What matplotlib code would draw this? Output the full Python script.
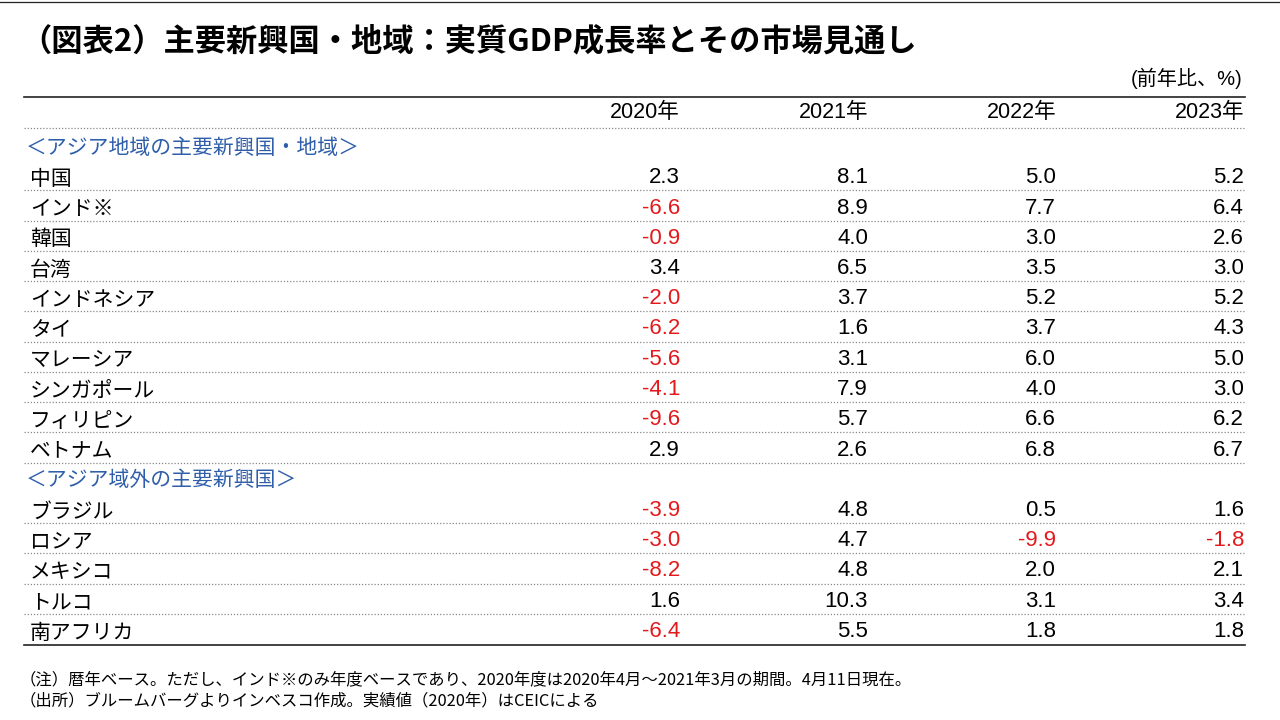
import matplotlib
matplotlib.use('Agg')
from matplotlib import pyplot as plt

# Table contents
title = '（図表2）主要新興国・地域：実質GDP成長率とその市場見通し'
unit = '(前年比、%)'
years = ['2020年', '2021年', '2022年', '2023年']

asia_header = '＜アジア地域の主要新興国・地域＞'
asia_names = ['中国', 'インド※', '韓国', '台湾', 'インドネシア', 'タイ',
              'マレーシア', 'シンガポール', 'フィリピン', 'ベトナム']
asia_vals = [[2.3, 8.1, 5.0, 5.2],
             [-6.6, 8.9, 7.7, 6.4],
             [-0.9, 4.0, 3.0, 2.6],
             [3.4, 6.5, 3.5, 3.0],
             [-2.0, 3.7, 5.2, 5.2],
             [-6.2, 1.6, 3.7, 4.3],
             [-5.6, 3.1, 6.0, 5.0],
             [-4.1, 7.9, 4.0, 3.0],
             [-9.6, 5.7, 6.6, 6.2],
             [2.9, 2.6, 6.8, 6.7]]

other_header = '＜アジア域外の主要新興国＞'
other_names = ['ブラジル', 'ロシア', 'メキシコ', 'トルコ', '南アフリカ']
other_vals = [[-3.9, 4.8, 0.5, 1.6],
              [-3.0, 4.7, -9.9, -1.8],
              [-8.2, 4.8, 2.0, 2.1],
              [1.6, 10.3, 3.1, 3.4],
              [-6.4, 5.5, 1.8, 1.8]]

notes = ['（注）暦年ベース。ただし、インド※のみ年度ベースであり、2020年度は2020年4月～2021年3月の期間。4月11日現在。',
         '（出所）ブルームバーグよりインベスコ作成。実績値（2020年）はCEICによる']

JP = ['Noto Sans CJK JP', 'DejaVu Sans']
NUM = ['Liberation Sans', 'Noto Sans CJK JP']
BLUE = '#2F5FAA'
RED = '#E3191C'

fig = plt.figure(figsize=(12.8, 7.2), dpi=100)
ax = fig.add_axes([0, 0, 1, 1])
ax.set_xlim(0, 1280)
ax.set_ylim(720, 0)
ax.axis('off')

left, right = 24, 1245
col_x = [680, 868, 1056, 1244]
label_x = 30
row_h = 30.25

# thin frame line at the very top
ax.plot([0, 1280], [1.5, 1.5], color='#222222', lw=0.9)

ax.text(20, 41, title, fontsize=22.5, fontweight='bold', family=JP,
        ha='left', va='center', color='black')
ax.text(1243, 78, unit, fontsize=14.5, family=NUM, ha='right', va='center')

# header
ax.plot([left, right], [97, 97], color='#222222', lw=1.2)
header_y = 113
for x, y in zip(col_x, years):
    ax.text(x, header_y, y, fontsize=15.5, family=NUM, ha='right', va='center')
ax.plot([left, right], [header_y + 14.5, header_y + 14.5], color='#888888',
        lw=0.9, linestyle=(0, (1, 1.5)))

# build row list: (label, values or None for section header)
rows = [(asia_header, None)] + list(zip(asia_names, asia_vals)) + \
       [(other_header, None)] + list(zip(other_names, other_vals))

y = 146
for i, (name, vals) in enumerate(rows):
    if vals is None:
        ax.text(label_x - 4, y + 1.5, name, fontsize=15, family=JP, color=BLUE,
                ha='left', va='center')
    else:
        ax.text(label_x, y + 2.5, name, fontsize=15, family=JP, color='black',
                ha='left', va='center')
        for x, v in zip(col_x, vals):
            ax.text(x, y + 1.5, f'{v:.1f}', fontsize=16, family=NUM,
                    color=RED if v < 0 else 'black', ha='right', va='center')
        last = i == len(rows) - 1
        if last:
            ax.plot([left, right], [y + 15, y + 15], color='#222222', lw=1.2)
        else:
            ax.plot([left, right], [y + 14, y + 14], color='#888888',
                    lw=0.9, linestyle=(0, (1, 1.5)))
    y += row_h

ax.text(20, 680, notes[0], fontsize=11.8, family=JP, ha='left', va='center')
ax.text(20, 701, notes[1], fontsize=11.8, family=JP, ha='left', va='center')

fig.savefig('out.png', dpi=100)
plt.close()
